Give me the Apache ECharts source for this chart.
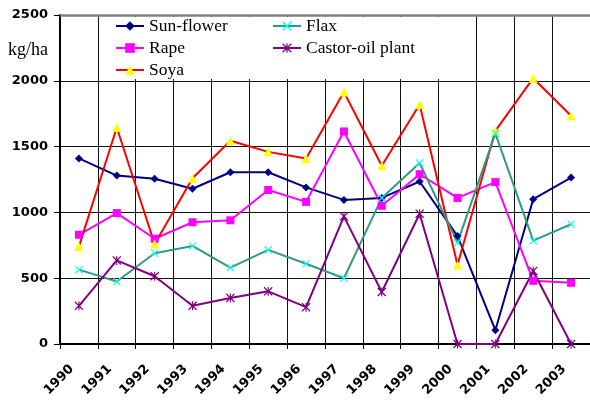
<!DOCTYPE html>
<html>
<head>
<meta charset="utf-8">
<script src="https://cdn.jsdelivr.net/npm/echarts@6/dist/echarts.min.js"></script>
<style>html,body{margin:0;padding:0;background:#fff;}#c{width:590px;height:400px;}</style>
</head>
<body>
<div id="c"></div>
<script>
const years = ['1990','1991','1992','1993','1994','1995','1996','1997','1998','1999','2000','2001','2002','2003'];
const yTicks = [0, 500, 1000, 1500, 2000, 2500];
const sunflower = [1410, 1280, 1255, 1180, 1305, 1305, 1190, 1095, 1110, 1235, 820, 105, 1100, 1265];
const rape = [830, 995, 800, 925, 940, 1170, 1080, 1615, 1050, 1290, 1110, 1230, 480, 465];
const soya = [740, 1645, 760, 1260, 1545, 1460, 1410, 1915, 1355, 1820, 600, 1620, 2020, 1735];
const flax = [565, 475, 690, 745, 580, 715, 610, 500, 1110, 1375, 770, 1600, 785, 910];
const castor = [290, 635, 515, 290, 350, 400, 280, 970, 395, 990, 0, 0, 555, 0];

const xSym = 'path://M0,1L1,0L5,4L9,0L10,1L6,5L10,9L9,10L5,6L1,10L0,9L4,5Z';
const starSym = 'path://M0,1L1,0L5,4L9,0L10,1L6,5L10,9L9,10L5,6L1,10L0,9L4,5ZM4.4,0L5.6,0L5.6,10L4.4,10Z';

function mk(name, data, lineColor, markColor, symbol, size) {
  return {
    name: name, type: 'line', data: data, symbol: symbol, symbolSize: size,
    lineStyle: {color: lineColor, width: 2},
    itemStyle: {color: markColor, borderColor: markColor, borderWidth: 0},
    emphasis: {disabled: true}
  };
}

const chart = echarts.init(document.getElementById('c'));
const legendText = {fontFamily: 'Liberation Serif', fontSize: 17.5, color: '#000'};
const series = [
  mk('Sun-flower', sunflower, '#000080', '#000080', 'diamond', 8),
  mk('Rape', rape, '#ff00ff', '#ff00ff', 'rect', 8),
  mk('Soya', soya, '#ff0000', '#ffff00', 'triangle', 9),
  mk('Flax', flax, '#339980', '#00ffff', xSym, 8),
  mk('Castor-oil plant', castor, '#800080', '#800080', starSym, 9)
];
series[0].markLine = {
  silent: true, symbol: 'none', label: {show: false},
  lineStyle: {color: '#808080', width: 2.5, type: 'solid'},
  data: [{yAxis: yTicks[yTicks.length - 1]}]
};
chart.setOption({
  animation: false,
  backgroundColor: '#fff',
  grid: {left: 60, top: 15, bottom: 56, width: 534},
  xAxis: {
    type: 'category', data: years, boundaryGap: true,
    axisLine: {lineStyle: {color: '#000', width: 2}},
    axisTick: {show: true, interval: 0, length: 5, lineStyle: {color: '#000'}},
    splitLine: {show: true, interval: 0, lineStyle: {color: '#111', width: 1}},
    axisLabel: {interval: 0, rotate: 45, margin: 16, padding: [0, 10, 0, 0],
      fontFamily: 'DejaVu Sans', fontWeight: 'bold', fontSize: 13, color: '#000'}
  },
  yAxis: {
    type: 'value', min: yTicks[0], max: yTicks[yTicks.length - 1], interval: 500,
    axisLine: {show: true, lineStyle: {color: '#000', width: 2}},
    axisTick: {show: true, length: 6, lineStyle: {color: '#000'}},
    splitLine: {lineStyle: {color: '#111', width: 1}},
    axisLabel: {margin: 12, fontFamily: 'DejaVu Sans', fontWeight: 'bold', fontSize: 13, color: '#000',
      formatter: function (v) { return String(v); }}
  },
  legend: [
    {left: 110, top: 12, orient: 'vertical', itemWidth: 28, itemHeight: 12, itemGap: 4,
     data: ['Sun-flower', 'Rape', 'Soya'], textStyle: legendText, z: 10},
    {left: 267, top: 12, orient: 'vertical', itemWidth: 28, itemHeight: 12, itemGap: 4,
     data: ['Flax', 'Castor-oil plant'], textStyle: legendText, z: 10}
  ],
  graphic: [
    {type: 'rect', left: 99, top: 17, z: 5, shape: {width: 341, height: 62}, style: {fill: '#fff'}},
    {type: 'text', left: 8, top: 41, z: 5, style: {text: 'kg/ha', font: '18px "Liberation Serif"', fill: '#000'}}
  ],
  series: series
});
</script>
</body>
</html>
